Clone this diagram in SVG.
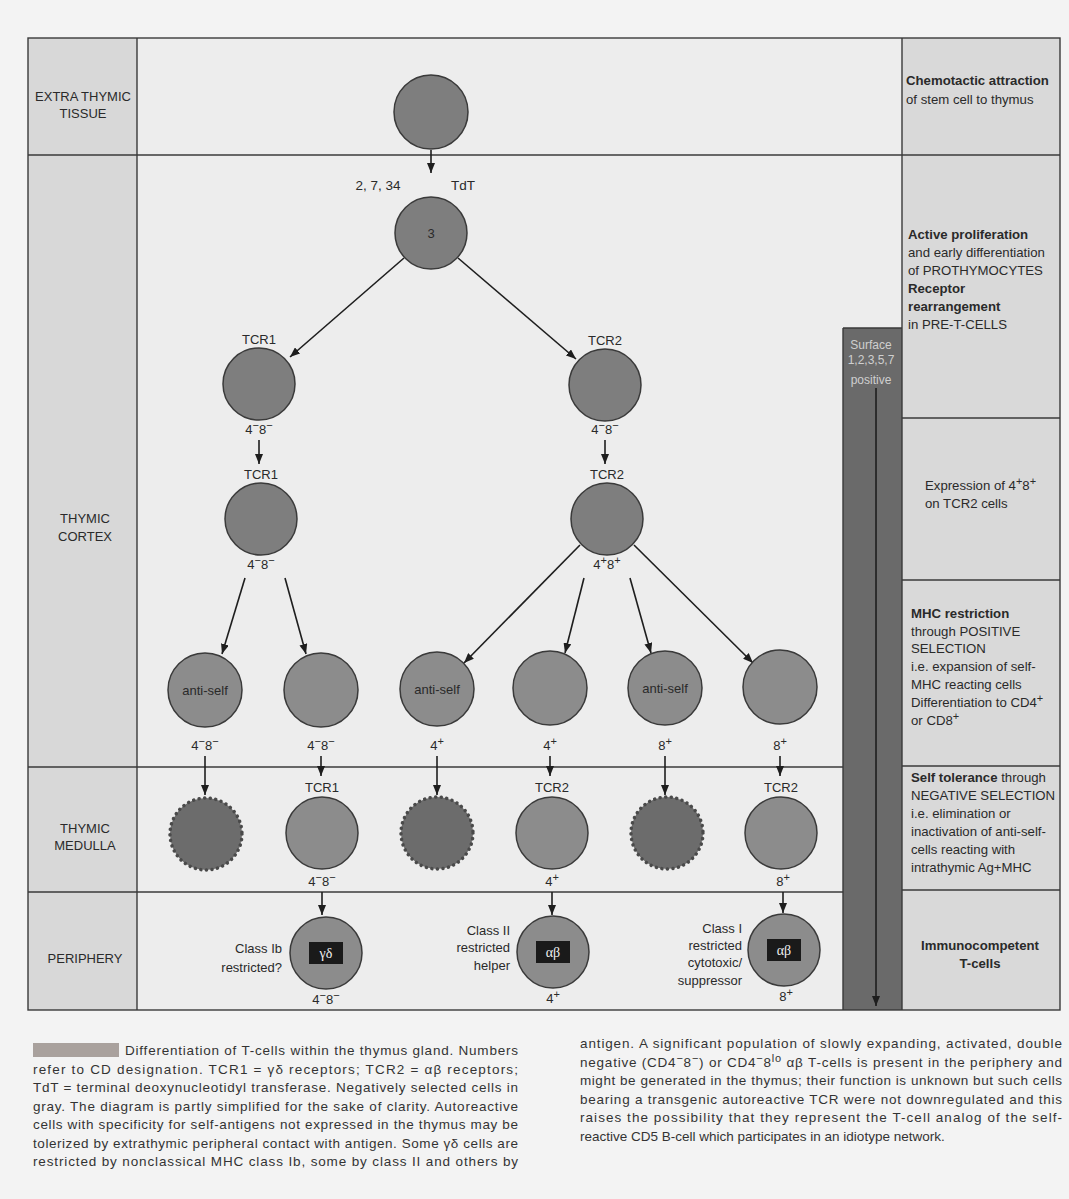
<svg xmlns="http://www.w3.org/2000/svg" width="1069" height="1199" viewBox="0 0 1069 1199">
<defs>
<marker id="ah" markerWidth="10" markerHeight="8" refX="10" refY="4" orient="auto" markerUnits="userSpaceOnUse">
<path d="M0,0 L10,4 L0,8 z" fill="#1e1e1e"/>
</marker>
<style>
text{font-family:"Liberation Sans","DejaVu Sans",sans-serif;fill:#2a2a2a}
.lbl{font-size:13px;text-anchor:middle}
.sup{font-size:11px}
.rc{font-size:13.2px}
.b{font-weight:bold}
.cap{font-size:13.5px;fill:#333}
.cell{fill:#8c8c8c;stroke:#3a3a3a;stroke-width:1.5}
.dk{fill:#7e7e7e}
.dead{fill:#6c6c6c;stroke:#4a4a4a;stroke-width:3.5;stroke-dasharray:0.1 5.5;stroke-linecap:round}
.ln{stroke:#3a3a3a;stroke-width:1.4;fill:none}
.ar{stroke:#1e1e1e;stroke-width:1.6;fill:none;marker-end:url(#ah)}
.box{fill:#1a1a1a}
.gk{font-family:"Liberation Serif","DejaVu Serif",serif;font-size:14px;fill:#f0f0f0;text-anchor:middle}
.sf{font-size:12px;fill:#cfcfcf;text-anchor:middle}
</style>
</defs>
<rect x="0" y="0" width="1069" height="1199" fill="#f3f3f3"/>
<rect x="137" y="38" width="765" height="972" fill="#ededed"/>
<rect x="28" y="38" width="109" height="972" fill="#d8d8d8"/>
<rect x="902" y="38" width="158" height="972" fill="#d9d9d9"/>
<rect x="843" y="328" width="59" height="682" fill="#6a6a6a"/>
<g id="frame">
<rect x="28" y="38" width="1032" height="972" class="ln"/>
<line x1="137" y1="38" x2="137" y2="1010" class="ln"/>
<line x1="902" y1="38" x2="902" y2="1010" class="ln"/>
<line x1="28" y1="155" x2="1060" y2="155" class="ln"/>
<line x1="28" y1="767" x2="843" y2="767" class="ln"/>
<line x1="28" y1="892" x2="843" y2="892" class="ln"/>
<line x1="902" y1="418" x2="1060" y2="418" class="ln"/>
<line x1="902" y1="580" x2="1060" y2="580" class="ln"/>
<line x1="902" y1="766" x2="1060" y2="766" class="ln"/>
<line x1="902" y1="890" x2="1060" y2="890" class="ln"/>
<line x1="843" y1="328" x2="843" y2="1010" class="ln"/>
<line x1="843" y1="328" x2="902" y2="328" class="ln"/>
</g>
<g id="zone-labels">
<text class="lbl" x="83" y="101">EXTRA THYMIC</text>
<text class="lbl" x="83" y="118">TISSUE</text>
<text class="lbl" x="85" y="523">THYMIC</text>
<text class="lbl" x="85" y="541">CORTEX</text>
<text class="lbl" x="85" y="833">THYMIC</text>
<text class="lbl" x="85" y="850">MEDULLA</text>
<text class="lbl" x="85" y="963">PERIPHERY</text>
</g>
<g id="stage-notes">
<text class="rc b" x="906" y="85">Chemotactic attraction</text>
<text class="rc" x="906" y="104">of stem cell to thymus</text>
<text class="rc b" x="908" y="239">Active proliferation</text>
<text class="rc" x="908" y="257">and early differentiation</text>
<text class="rc" x="908" y="275">of PROTHYMOCYTES</text>
<text class="rc b" x="908" y="293">Receptor</text>
<text class="rc b" x="908" y="311">rearrangement</text>
<text class="rc" x="908" y="329">in PRE-T-CELLS</text>
<text class="rc" x="925" y="490">Expression of 4<tspan class="sup" dy="-5">+</tspan><tspan dy="5">8</tspan><tspan class="sup" dy="-5">+</tspan></text>
<text class="rc" x="925" y="508">on TCR2 cells</text>
<text class="rc b" x="911" y="618">MHC restriction</text>
<text class="rc" x="911" y="636">through POSITIVE</text>
<text class="rc" x="911" y="653">SELECTION</text>
<text class="rc" x="911" y="671">i.e. expansion of self-</text>
<text class="rc" x="911" y="689">MHC reacting cells</text>
<text class="rc" x="911" y="707">Differentiation to CD4<tspan class="sup" dy="-5">+</tspan></text>
<text class="rc" x="911" y="725">or CD8<tspan class="sup" dy="-5">+</tspan></text>
<text class="rc" x="911" y="782"><tspan class="b">Self tolerance</tspan> through</text>
<text class="rc" x="911" y="800">NEGATIVE SELECTION</text>
<text class="rc" x="911" y="818">i.e. elimination or</text>
<text class="rc" x="911" y="836">inactivation of anti-self-</text>
<text class="rc" x="911" y="854">cells reacting with</text>
<text class="rc" x="911" y="872">intrathymic Ag+MHC</text>
<text class="rc b" x="980" y="950" text-anchor="middle">Immunocompetent</text>
<text class="rc b" x="980" y="968" text-anchor="middle">T-cells</text>
</g>
<g id="surface-bar">
<text class="sf" x="871" y="349">Surface</text>
<text class="sf" x="871" y="364">1,2,3,5,7</text>
<text class="sf" x="871" y="384">positive</text>
</g>
<g id="connectors">
<line class="ar" x1="876" y1="388" x2="876" y2="1006"/>
<line class="ar" x1="431" y1="150" x2="431" y2="173"/>
<line class="ar" x1="404" y1="258" x2="290" y2="357"/>
<line class="ar" x1="458" y1="258" x2="576" y2="359"/>
<line class="ar" x1="259" y1="440" x2="259" y2="464"/>
<line class="ar" x1="605" y1="440" x2="605" y2="464"/>
<line class="ar" x1="245" y1="578" x2="222" y2="654"/>
<line class="ar" x1="285" y1="578" x2="306" y2="654"/>
<line class="ar" x1="580" y1="545" x2="464" y2="663"/>
<line class="ar" x1="584" y1="578" x2="565" y2="653"/>
<line class="ar" x1="630" y1="578" x2="651" y2="653"/>
<line class="ar" x1="634" y1="545" x2="753" y2="663"/>
<line class="ar" x1="205" y1="756" x2="205" y2="795"/>
<line class="ar" x1="321" y1="756" x2="321" y2="776"/>
<line class="ar" x1="437" y1="756" x2="437" y2="795"/>
<line class="ar" x1="550" y1="756" x2="550" y2="776"/>
<line class="ar" x1="665" y1="756" x2="665" y2="795"/>
<line class="ar" x1="780" y1="756" x2="780" y2="776"/>
<line class="ar" x1="322" y1="892" x2="322" y2="915"/>
<line class="ar" x1="552" y1="892" x2="552" y2="915"/>
<line class="ar" x1="783" y1="892" x2="783" y2="913"/>
</g>
<g id="stem-cell"><circle cx="431" cy="112" r="37" class="cell dk"/></g>
<g id="prothymocyte">
<text class="lbl" x="378" y="190" style="font-size:13.5px">2, 7, 34</text>
<text class="lbl" x="463" y="190" style="font-size:13.5px">TdT</text>
<circle cx="431" cy="233" r="36" class="cell dk"/>
<text class="lbl" x="431" y="238">3</text>
</g>
<g id="tcr1-a">
<text class="lbl" x="259" y="344">TCR1</text>
<circle cx="259" cy="384" r="36" class="cell dk"/>
<text class="lbl" x="259" y="434">4<tspan class="sup" dy="-5">−</tspan><tspan dy="5">8</tspan><tspan class="sup" dy="-5">−</tspan></text>
</g>
<g id="tcr2-a">
<text class="lbl" x="605" y="345">TCR2</text>
<circle cx="605" cy="385" r="36" class="cell dk"/>
<text class="lbl" x="605" y="434">4<tspan class="sup" dy="-5">−</tspan><tspan dy="5">8</tspan><tspan class="sup" dy="-5">−</tspan></text>
</g>
<g id="tcr1-b">
<text class="lbl" x="261" y="479">TCR1</text>
<circle cx="261" cy="519" r="36" class="cell dk"/>
<text class="lbl" x="261" y="569">4<tspan class="sup" dy="-5">−</tspan><tspan dy="5">8</tspan><tspan class="sup" dy="-5">−</tspan></text>
</g>
<g id="tcr2-b">
<text class="lbl" x="607" y="479">TCR2</text>
<circle cx="607" cy="519" r="36" class="cell dk"/>
<text class="lbl" x="607" y="569">4<tspan class="sup" dy="-5">+</tspan><tspan dy="5">8</tspan><tspan class="sup" dy="-5">+</tspan></text>
</g>
<g id="sel-1">
<circle cx="205" cy="690" r="37" class="cell"/>
<text class="lbl" x="205" y="695">anti-self</text>
<text class="lbl" x="205" y="750">4<tspan class="sup" dy="-5">−</tspan><tspan dy="5">8</tspan><tspan class="sup" dy="-5">−</tspan></text>
</g>
<g id="sel-2">
<circle cx="321" cy="690" r="37" class="cell"/>
<text class="lbl" x="321" y="750">4<tspan class="sup" dy="-5">−</tspan><tspan dy="5">8</tspan><tspan class="sup" dy="-5">−</tspan></text>
</g>
<g id="sel-3">
<circle cx="437" cy="689" r="37" class="cell"/>
<text class="lbl" x="437" y="694">anti-self</text>
<text class="lbl" x="437" y="750">4<tspan class="sup" dy="-5">+</tspan></text>
</g>
<g id="sel-4">
<circle cx="550" cy="688" r="37" class="cell"/>
<text class="lbl" x="550" y="750">4<tspan class="sup" dy="-5">+</tspan></text>
</g>
<g id="sel-5">
<circle cx="665" cy="688" r="37" class="cell"/>
<text class="lbl" x="665" y="693">anti-self</text>
<text class="lbl" x="665" y="750">8<tspan class="sup" dy="-5">+</tspan></text>
</g>
<g id="sel-6">
<circle cx="780" cy="687" r="37" class="cell"/>
<text class="lbl" x="780" y="750">8<tspan class="sup" dy="-5">+</tspan></text>
</g>
<g id="med-1"><circle cx="206" cy="834" r="36" class="dead"/></g>
<g id="med-2">
<text class="lbl" x="322" y="792">TCR1</text>
<circle cx="322" cy="833" r="36" class="cell"/>
<text class="lbl" x="322" y="886">4<tspan class="sup" dy="-5">−</tspan><tspan dy="5">8</tspan><tspan class="sup" dy="-5">−</tspan></text>
</g>
<g id="med-3"><circle cx="437" cy="833" r="36" class="dead"/></g>
<g id="med-4">
<text class="lbl" x="552" y="792">TCR2</text>
<circle cx="552" cy="833" r="36" class="cell"/>
<text class="lbl" x="552" y="886">4<tspan class="sup" dy="-5">+</tspan></text>
</g>
<g id="med-5"><circle cx="667" cy="833" r="36" class="dead"/></g>
<g id="med-6">
<text class="lbl" x="781" y="792">TCR2</text>
<circle cx="781" cy="833" r="36" class="cell"/>
<text class="lbl" x="783" y="886">8<tspan class="sup" dy="-5">+</tspan></text>
</g>
<g id="periph-gd">
<text class="lbl" x="282" y="953" style="text-anchor:end">Class Ib</text>
<text class="lbl" x="282" y="972" style="text-anchor:end">restricted?</text>
<circle cx="326" cy="953" r="36" class="cell"/>
<rect x="309" y="942" width="34" height="22" class="box"/>
<text class="gk" x="326" y="958">γδ</text>
<text class="lbl" x="326" y="1004">4<tspan class="sup" dy="-5">−</tspan><tspan dy="5">8</tspan><tspan class="sup" dy="-5">−</tspan></text>
</g>
<g id="periph-helper">
<text class="lbl" x="510" y="935" style="text-anchor:end">Class II</text>
<text class="lbl" x="510" y="952" style="text-anchor:end">restricted</text>
<text class="lbl" x="510" y="970" style="text-anchor:end">helper</text>
<circle cx="553" cy="952" r="36" class="cell"/>
<rect x="536" y="941" width="34" height="22" class="box"/>
<text class="gk" x="553" y="957">αβ</text>
<text class="lbl" x="553" y="1003">4<tspan class="sup" dy="-5">+</tspan></text>
</g>
<g id="periph-cyto">
<text class="lbl" x="742" y="933" style="text-anchor:end">Class I</text>
<text class="lbl" x="742" y="950" style="text-anchor:end">restricted</text>
<text class="lbl" x="742" y="967" style="text-anchor:end">cytotoxic/</text>
<text class="lbl" x="742" y="985" style="text-anchor:end">suppressor</text>
<circle cx="784" cy="950" r="36" class="cell"/>
<rect x="767" y="939" width="34" height="22" class="box"/>
<text class="gk" x="784" y="955">αβ</text>
<text class="lbl" x="786" y="1001">8<tspan class="sup" dy="-5">+</tspan></text>
</g>
<g id="caption">
<rect x="33" y="1043" width="86" height="14" fill="#a9a19d"/>
<text class="cap" x="125" y="1055" textLength="393" lengthAdjust="spacing">Differentiation of T-cells within the thymus gland. Numbers</text>
<text class="cap" x="33" y="1074" textLength="485" lengthAdjust="spacing">refer to CD designation. TCR1 = γδ receptors; TCR2 = αβ receptors;</text>
<text class="cap" x="33" y="1092" textLength="485" lengthAdjust="spacing">TdT = terminal deoxynucleotidyl transferase. Negatively selected cells in</text>
<text class="cap" x="33" y="1111" textLength="485" lengthAdjust="spacing">gray. The diagram is partly simplified for the sake of clarity. Autoreactive</text>
<text class="cap" x="33" y="1129" textLength="485" lengthAdjust="spacing">cells with specificity for self-antigens not expressed in the thymus may be</text>
<text class="cap" x="33" y="1148" textLength="485" lengthAdjust="spacing">tolerized by extrathymic peripheral contact with antigen. Some γδ cells are</text>
<text class="cap" x="33" y="1166" textLength="485" lengthAdjust="spacing">restricted by nonclassical MHC class Ib, some by class II and others by</text>
<text class="cap" x="580" y="1048" textLength="482" lengthAdjust="spacing">antigen. A significant population of slowly expanding, activated, double</text>
<text class="cap" x="580" y="1067" textLength="482" lengthAdjust="spacing">negative (CD4<tspan class="sup" dy="-5">−</tspan><tspan dy="5">8</tspan><tspan class="sup" dy="-5">−</tspan><tspan dy="5">) or CD4</tspan><tspan class="sup" dy="-5">−</tspan><tspan dy="5">8</tspan><tspan class="sup" dy="-5">lo</tspan><tspan dy="5"> αβ T-cells is present in the periphery and</tspan></text>
<text class="cap" x="580" y="1085" textLength="482" lengthAdjust="spacing">might be generated in the thymus; their function is unknown but such cells</text>
<text class="cap" x="580" y="1104" textLength="482" lengthAdjust="spacing">bearing a transgenic autoreactive TCR were not downregulated and this</text>
<text class="cap" x="580" y="1122" textLength="482" lengthAdjust="spacing">raises the possibility that they represent the T-cell analog of the self-</text>
<text class="cap" x="580" y="1141">reactive CD5 B-cell which participates in an idiotype network.</text>
</g>
</svg>
